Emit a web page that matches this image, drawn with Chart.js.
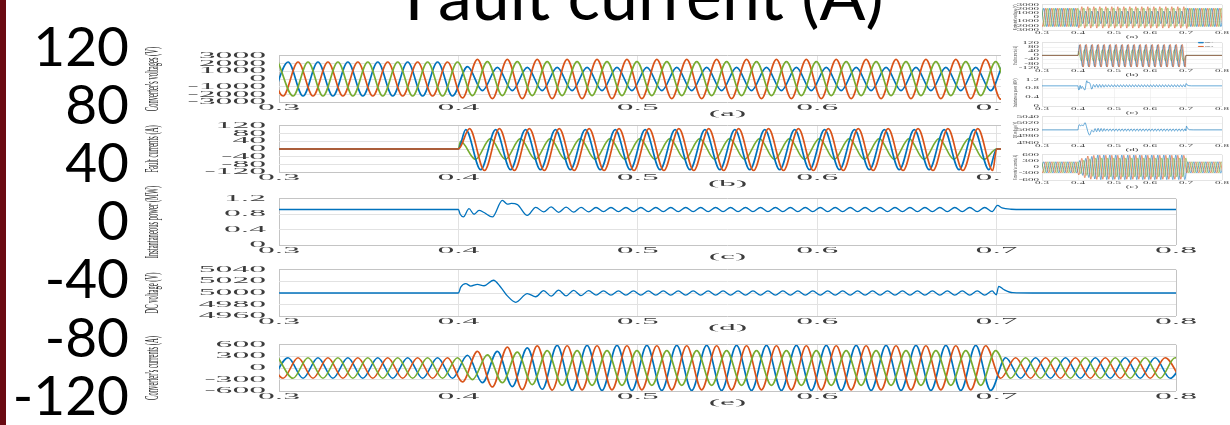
<!DOCTYPE html>
<html>
<head>
<meta charset="utf-8">
<title>Fault current (A)</title>
<script src="https://cdn.jsdelivr.net/npm/chart.js@4.4.1/dist/chart.umd.min.js"></script>
<style>
  html, body { margin: 0; padding: 0; background: #ffffff; }
  body { position: relative; width: 1230px; height: 425px; overflow: hidden; }
  canvas { position: absolute; }
  #inset { position: absolute; left: 1001px; top: 0; width: 229px; height: 191px; background: #ffffff; }
  #edge { position: absolute; left: 0; top: 0; width: 6px; height: 425px; background: #6a0a12; }
</style>
</head>
<body>
<canvas id="bg"></canvas>
<canvas id="pa"></canvas>
<canvas id="pb"></canvas>
<canvas id="pc"></canvas>
<canvas id="pd"></canvas>
<canvas id="pe"></canvas>
<div id="inset"></div>
<canvas id="ta"></canvas>
<canvas id="tb"></canvas>
<canvas id="tc"></canvas>
<canvas id="td"></canvas>
<canvas id="te"></canvas>
<canvas id="tlegend"></canvas>
<div id="edge"></div>
<script>
// ---------------------------------------------------------------------------
// Time base (s)
// ---------------------------------------------------------------------------
const tMin = 0.3, tMax = 0.8, tStep = 0.1;
const faultOn = 0.4, faultOff = 0.7;
const halfCycle = 1 / 120;   // spacing of successive extremes of a 60 Hz wave
const rippleHalf = 1 / 240;  // spacing of successive extremes of the 120 Hz ripple

// Background axis (fault current, A)
const bgTicks = [-120, -80, -40, 0, 40, 80, 120];

// First extreme of each converter-side phase: A (blue), B (orange), C (green)
const convStart = [0.29672, 0.29394, 0.2995];

// (a) converter voltages, V - successive peaks / troughs
const convVoltA = [
  -2200, 2200, -2200, 2200, -2200, 2200, -2200, 2200, -2200, 2200, -2200, 2200, -2200,
  1600, -1500, 1500, -1500, 1500, -1500, 1500, -1500, 1500, -1500, 1500, -1500,
  1500, -1500, 1500, -1500, 1500, -1500, 1500, -1500, 1500, -1500, 1500, -1500,
  1500, -1500, 1500, -1500, 1500, -1500, 1500, -1500, 1500, -1500, 1500, -1500,
  2200, -2200, 2200, -2200, 2200, -2200, 2200, -2200, 2200, -2200, 2200, -2200, 2200
];
const convVoltB = [
  2200, -2200, 2200, -2200, 2200, -2200, 2200, -2200, 2200, -2200, 2200, -2200, 2200,
  -2450, 2550, -2550, 2550, -2550, 2550, -2550, 2550, -2550, 2550, -2550, 2550,
  -2550, 2550, -2550, 2550, -2550, 2550, -2550, 2550, -2550, 2550, -2550, 2550,
  -2550, 2550, -2550, 2550, -2550, 2550, -2550, 2550, -2550, 2550, -2550, 2550,
  -2600, 2200, -2200, 2200, -2200, 2200, -2200, 2200, -2200, 2200, -2200, 2200, -2200
];
const convVoltC = [
  2200, -2200, 2200, -2200, 2200, -2200, 2200, -2200, 2200, -2200, 2200, -2200, 2200,
  -2150, 2250, -2150, 2250, -2150, 2250, -2150, 2250, -2150, 2250, -2150, 2250,
  -2150, 2250, -2150, 2250, -2150, 2250, -2150, 2250, -2150, 2250, -2150, 2250,
  -2150, 2250, -2150, 2250, -2150, 2250, -2150, 2250, -2150, 2250, -2150, 2250,
  -2200, 2200, -2200, 2200, -2200, 2200, -2200, 2200, -2200, 2200, -2200, 2200, -2200
];

// (b) fault currents, A - first extreme after inception, then successive extremes
const faultStart = [0.4041, 0.4062, 0.4012];
const faultCurA = [
  100, -107, 100, -107, 100, -107, 100, -107, 100, -107, 100, -107,
  100, -107, 100, -107, 100, -107, 100, -107, 100, -107, 100, -107,
  100, -107, 100, -107, 100, -107, 100, -107, 100, -107, 100, -107
];
const faultCurB = [
  105, -111, 105, -111, 105, -111, 105, -111, 105, -111, 105, -111,
  105, -111, 105, -111, 105, -111, 105, -111, 105, -111, 105, -111,
  105, -111, 105, -111, 105, -111, 105, -111, 105, -111, 105, -111
];
const faultCurC = [
  40, -54, 54, -54, 54, -54, 54, -54, 54, -54, 54, -54,
  54, -54, 54, -54, 54, -54, 54, -54, 54, -54, 54, -54,
  54, -54, 54, -54, 54, -54, 54, -54, 54, -54, 54, -54
];

// (c) instantaneous power, MW
const powerOnT = [0.3, 0.4, 0.4010, 0.4028, 0.4059, 0.4087, 0.4115, 0.4143, 0.4189, 0.4245, 0.4273, 0.4295, 0.4329, 0.4384, 0.4431, 0.4475];
const powerOnV = [0.923, 0.923, 0.80, 0.73, 0.945, 0.80, 0.90, 0.845, 0.73, 1.16, 1.06, 1.08, 1.05, 0.77, 0.98, 0.86];
const rippleStart = 0.4517;
const powerRipple = [
  0.99, 0.85, 0.985, 0.855, 0.98, 0.86, 0.975, 0.87, 0.975, 0.87, 0.975, 0.87,
  0.975, 0.87, 0.975, 0.87, 0.975, 0.87, 0.975, 0.87, 0.975, 0.87, 0.975, 0.87,
  0.975, 0.87, 0.975, 0.87, 0.975, 0.87, 0.975, 0.87, 0.975, 0.87, 0.975, 0.87,
  0.975, 0.87, 0.975, 0.87, 0.975, 0.87, 0.975, 0.87, 0.975, 0.87, 0.975, 0.87,
  0.975, 0.87, 0.975, 0.87, 0.975, 0.87, 0.975, 0.87, 0.975, 0.87, 0.975, 0.87
];
const powerOffT = [0.7005, 0.7030, 0.7080, 0.7150, 0.8];
const powerOffV = [1.03, 0.965, 0.93, 0.923, 0.923];

// (d) DC voltage, V
const dcOnT = [0.3, 0.4, 0.4013, 0.4041, 0.4069, 0.4106, 0.4143, 0.4195, 0.4236, 0.4273, 0.4320, 0.4384, 0.4431, 0.4475];
const dcOnV = [5000, 5000, 5010, 5016, 5012, 5015, 5012.5, 5022, 5010, 4995, 4984, 4999, 4993.5, 5004];
const dcRipple = [
  4994.5, 5005, 4995, 5004.5, 4995.5, 5004, 4996.5, 5003.5, 4996.5, 5003.5, 4996.5, 5003.5,
  4996.5, 5003.5, 4996.5, 5003.5, 4996.5, 5003.5, 4996.5, 5003.5, 4996.5, 5003.5, 4996.5, 5003.5,
  4996.5, 5003.5, 4996.5, 5003.5, 4996.5, 5003.5, 4996.5, 5003.5, 4996.5, 5003.5, 4996.5, 5003.5,
  4996.5, 5003.5, 4996.5, 5003.5, 4996.5, 5003.5, 4996.5, 5003.5, 4996.5, 5003.5, 4996.5, 5003.5,
  4996.5, 5003.5, 4996.5, 5003.5, 4996.5, 5003.5, 4996.5, 5003.5, 4996.5, 5003.5, 4996.5, 5003.5
];
const dcOffT = [0.6998, 0.7012, 0.7040, 0.7090, 0.7200, 0.8];
const dcOffV = [4997, 5011.5, 5006, 5000.5, 5000, 5000];

// (e) converter currents, A - successive peaks / troughs
const convCurA = [
  -265, 265, -265, 265, -265, 265, -265, 265, -265, 265, -265, 265, -265,
  330, -380, 430, -480, 520, -550, 585, -580, 585, -580, 585, -580,
  585, -580, 585, -580, 585, -580, 585, -580, 585, -580, 585, -580,
  585, -580, 585, -580, 585, -580, 585, -580, 585, -580, 585, -580,
  265, -265, 265, -265, 265, -265, 265, -265, 265, -265, 265, -265, 265
];
const convCurB = [
  265, -265, 265, -265, 265, -265, 265, -265, 265, -265, 265, -265, 265,
  -360, 430, -490, 540, -560, 570, -570, 575, -565, 575, -565, 575,
  -565, 575, -565, 575, -565, 575, -565, 575, -565, 575, -565, 575,
  -565, 575, -565, 575, -565, 575, -565, 575, -565, 575, -565, 575,
  -265, 265, -265, 265, -265, 265, -265, 265, -265, 265, -265, 265, -265
];
const convCurC = [
  265, -265, 265, -265, 265, -265, 265, -265, 265, -265, 265, -265, 265,
  -300, 340, -380, 410, -430, 450, -450, 450, -450, 450, -450, 450,
  -450, 450, -450, 450, -450, 450, -450, 450, -450, 450, -450, 450,
  -450, 450, -450, 450, -450, 450, -450, 450, -450, 450, -450, 450,
  -265, 265, -265, 265, -265, 265, -265, 265, -265, 265, -265, 265, -265
];

const phaseNames = ['Phase A', 'Phase B', 'Phase C'];
const phaseColors = ['#0072BD', '#D95319', '#77AC30'];

// ---------------------------------------------------------------------------
// Point tables for the library
// ---------------------------------------------------------------------------
function extremes(start, step, values) {
  return values.map((v, i) => ({ x: start + i * step, y: v }));
}
function pairs(ts, vs) {
  return ts.map((t, i) => ({ x: t, y: vs[i] }));
}
function faultTrace(start, values) {
  return [{ x: tMin, y: 0 }, { x: faultOn, y: 0 }]
    .concat(extremes(start, halfCycle, values))
    .concat([{ x: faultOff, y: 0 }, { x: tMax, y: 0 }]);
}
function rippleTrace(onT, onV, ripple, offT, offV) {
  return pairs(onT, onV).concat(extremes(rippleStart, rippleHalf, ripple)).concat(pairs(offT, offV));
}

const voltSets = [convVoltA, convVoltB, convVoltC].map((v, i) => extremes(convStart[i], halfCycle, v));
const faultSets = [faultCurA, faultCurB, faultCurC].map((v, i) => faultTrace(faultStart[i], v));
const curSets = [convCurA, convCurB, convCurC].map((v, i) => extremes(convStart[i], halfCycle, v));
const powerSet = rippleTrace(powerOnT, powerOnV, powerRipple, powerOffT, powerOffV);
const dcSet = rippleTrace(dcOnT, dcOnV, dcRipple, dcOffT, dcOffV);

// dataset 0 is painted last (on top)
function threePhase(sets, order) {
  return order.map(i => ({ label: phaseNames[i], color: phaseColors[i], data: sets[i] }));
}

const panelSpecs = [
  { id: 'a', yTitle: "Converter's voltages (V)", tag: '(a)', min: -3000, max: 3000, step: 1000,
    series: threePhase(voltSets, [2, 1, 0]) },
  { id: 'b', yTitle: 'Fault currents (A)', tag: '(b)', min: -120, max: 120, step: 40,
    series: threePhase(faultSets, [1, 0, 2]) },
  { id: 'c', yTitle: 'Instantaneous power (MW)', tag: '(c)', min: 0, max: 1.2, step: 0.4, thin: true,
    series: [{ label: 'P', color: phaseColors[0], data: powerSet }] },
  { id: 'd', yTitle: 'DC voltage (V)', tag: '(d)', min: 4960, max: 5040, step: 20, thin: true,
    series: [{ label: 'Vdc', color: phaseColors[0], data: dcSet }] },
  { id: 'e', yTitle: "Converter's currents (A)", tag: '(e)', min: -600, max: 600, step: 300,
    series: threePhase(curSets, [2, 1, 0]) }
];

// ---------------------------------------------------------------------------
// Plugin: the figure's lettering is drawn stretched (wide tick text, tall axis titles)
// ---------------------------------------------------------------------------
const stretchText = {
  id: 'stretchText',
  beforeDraw(chart) {
    const ctx = chart.ctx;
    if (ctx.__stretched) return;
    ctx.__stretched = true;
    const base = CanvasRenderingContext2D.prototype.fillText;
    ctx.fillText = function (text, x, y) {
      const o = chart.options.plugins.stretchText || {};
      const m = this.getTransform();
      const turned = Math.abs(m.b) > 1e-6;
      this.save();
      this.translate(x, y);
      if (turned) this.scale(1, o.sy || 1); else this.scale(o.sx || 1, 1);
      base.call(this, text, 0, 0);
      this.restore();
    };
  }
};

Chart.defaults.animation = false;
Chart.defaults.responsive = false;
Chart.defaults.events = [];

const fmtY = v => String(+Number(v).toFixed(2));
const fmtX = v => Number(v).toFixed(1);

function buildPanel(canvasId, spec, plot, look) {
  const cv = document.getElementById(canvasId);
  const cTop = plot.top - look.above;
  const cBottom = plot.bottom + look.below;
  cv.width = look.x2 - look.x1;
  cv.height = cBottom - cTop;
  cv.style.left = look.x1 + 'px';
  cv.style.top = cTop + 'px';
  const tickLH = look.tickSize * 1.2;
  const titleLH = look.yTitleSize * 1.2;
  const gridColor = c => (c.index === 0 || c.index === c.scale.ticks.length - 1) ? look.edge : look.grid;
  return new Chart(cv, {
    type: 'line',
    data: {
      datasets: spec.series.map(s => ({
        label: s.label, data: s.data, borderColor: s.color, backgroundColor: s.color,
        borderWidth: spec.thin ? look.thinWidth : look.lineWidth, pointRadius: 0, fill: false,
        cubicInterpolationMode: 'monotone'
      }))
    },
    options: {
      devicePixelRatio: 1,
      layout: { padding: { left: 0, top: look.above, right: look.x2 - look.plotRight, bottom: 0 } },
      plugins: {
        legend: { display: false }, tooltip: { enabled: false },
        stretchText: { sx: look.sx, sy: look.sy }
      },
      scales: {
        x: {
          type: 'linear', min: tMin, max: tMax,
          afterFit: s => { s.height = look.below; },
          ticks: { stepSize: tStep, padding: look.xTickAt - tickLH / 2, autoSkip: false, maxRotation: 0,
                   font: { family: 'Liberation Serif', size: look.tickSize }, color: look.text, callback: fmtX },
          grid: { color: gridColor, lineWidth: look.gridWidth, drawTicks: false },
          border: { display: false },
          title: { display: true, text: spec.tag, color: look.text,
                   font: { family: 'Liberation Serif', size: look.tickSize },
                   padding: { top: 0, bottom: look.below - look.xTitleAt - tickLH / 2 } }
        },
        y: {
          min: spec.min, max: spec.max,
          afterFit: s => { s.width = look.plotLeft - look.x1; },
          ticks: { stepSize: spec.step, padding: look.yTickPad, autoSkip: false,
                   font: { family: 'Liberation Serif', size: look.tickSize }, color: look.text, callback: fmtY },
          grid: { color: gridColor, lineWidth: look.gridWidth, drawTicks: false },
          border: { display: false },
          title: { display: true, text: spec.yTitle, color: look.titleText,
                   font: { family: 'Liberation Serif', size: look.yTitleSize },
                   padding: { top: look.yTitleAt - titleLH / 2, bottom: 0 } }
        }
      }
    },
    plugins: [stretchText]
  });
}

// ---------------------------------------------------------------------------
// Background axis: fault current
// ---------------------------------------------------------------------------
(function () {
  const cv = document.getElementById('bg');
  const top = -43;
  cv.width = 1308; cv.height = 508;
  cv.style.left = '0px'; cv.style.top = top + 'px';
  new Chart(cv, {
    type: 'line',
    data: { datasets: [{ label: 'Fault current (A)', data: [] }] },
    options: {
      devicePixelRatio: 1,
      layout: { padding: { left: 0, top: 0, right: 20, bottom: 508 - (397 - top) } },
      plugins: {
        legend: { display: false }, tooltip: { enabled: false },
        title: { display: true, text: 'Fault current (A)', color: '#000000',
                 font: { family: 'Lato', size: 68, weight: 'normal' },
                 padding: { top: 0, bottom: (48 - top) - 68 * 1.2 } }
      },
      scales: {
        x: { type: 'linear', min: tMin, max: tMax, display: false },
        y: {
          min: bgTicks[0], max: bgTicks[bgTicks.length - 1],
          afterFit: s => { s.width = 140; },
          afterBuildTicks: s => { s.ticks = bgTicks.map(v => ({ value: v })); },
          ticks: { padding: 11, autoSkip: false, color: '#000000',
                   font: { family: 'Lato', size: 55 } },
          grid: { display: false, drawTicks: false }, border: { display: false }
        }
      }
    }
  });
})();

// ---------------------------------------------------------------------------
// Main five-panel figure
// ---------------------------------------------------------------------------
const mainLook = {
  x1: 140, x2: 1200, plotLeft: 279, plotRight: 1176, above: 14, below: 17,
  tickSize: 8, yTitleSize: 6.6, yTickPad: 13, xTickAt: 6, xTitleAt: 12, yTitleAt: 13,
  sx: 4.2, sy: 2.8, lineWidth: 1.7, thinWidth: 1.3, gridWidth: 1,
  grid: '#e2e2e2', edge: '#c4c4c4', text: '#3c3c3c', titleText: '#262626'
};
const mainPlots = [
  { top: 52, bottom: 103 }, { top: 122, bottom: 173 }, { top: 195, bottom: 246 },
  { top: 266, bottom: 317 }, { top: 341, bottom: 392 }
];
panelSpecs.forEach((s, i) => buildPanel('p' + s.id, s, mainPlots[i], mainLook));

// ---------------------------------------------------------------------------
// Small copy of the whole figure (top right)
// ---------------------------------------------------------------------------
const thumbLook = {
  x1: 1001, x2: 1230, plotLeft: 1042, plotRight: 1222, above: 3, below: 10,
  tickSize: 3, yTitleSize: 2.6, yTickPad: 3, xTickAt: 3.5, xTitleAt: 7, yTitleAt: 15,
  sx: 3.7, sy: 2, lineWidth: 0.6, thinWidth: 0.6, gridWidth: 0.5,
  grid: '#e6e6e6', edge: '#c8c8c8', text: '#444444', titleText: '#333333'
};
const thumbPlots = [
  { top: 3, bottom: 30 }, { top: 41, bottom: 68 }, { top: 78, bottom: 106 },
  { top: 115, bottom: 143 }, { top: 153, bottom: 180 }
];
panelSpecs.forEach((s, i) => buildPanel('t' + s.id, s, thumbPlots[i], thumbLook));

(function () {
  const cv = document.getElementById('tlegend');
  cv.width = 24; cv.height = 14;
  cv.style.left = '1197px'; cv.style.top = '40px';
  new Chart(cv, {
    type: 'line',
    data: { datasets: [0, 1, 2].map(i => ({ label: phaseNames[i], data: [], borderColor: phaseColors[i], backgroundColor: phaseColors[i], borderWidth: 0.6 })) },
    options: {
      devicePixelRatio: 1,
      layout: { padding: 0 },
      scales: { x: { display: false }, y: { display: false } },
      plugins: {
        tooltip: { enabled: false },
        legend: { display: true, position: 'top', align: 'start',
                  labels: { boxWidth: 5, boxHeight: 0.6, padding: 1.4, color: '#444444',
                            font: { family: 'Liberation Serif', size: 2.6 } } }
      }
    }
  });
})();
</script>
</body>
</html>
